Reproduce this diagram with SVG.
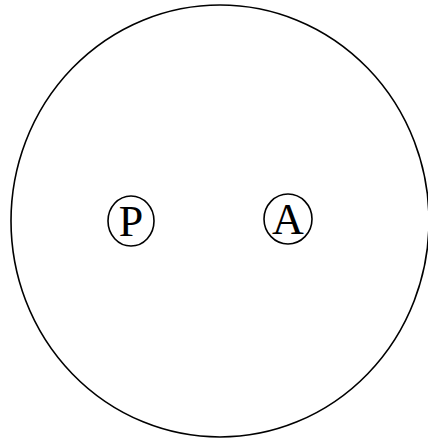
<svg xmlns="http://www.w3.org/2000/svg" width="428" height="439" viewBox="0 0 428 439">
<style>
.shape{fill:none;stroke:#000;stroke-width:1.6}
.lbl{font-family:"Liberation Serif","Times New Roman",serif;font-size:44px;fill:#000;text-anchor:middle}
</style>
<rect width="428" height="439" fill="#fff"/>
<g id="outer"><ellipse class="shape" cx="220" cy="221" rx="209" ry="216"/></g>
<g id="P"><ellipse class="shape" cx="131" cy="221" rx="23" ry="25"/><text class="lbl" x="131" y="236">P</text></g>
<g id="A"><ellipse class="shape" cx="288" cy="219" rx="24" ry="25"/><text class="lbl" x="288" y="234">A</text></g>
<g id="connectors"/>
</svg>
